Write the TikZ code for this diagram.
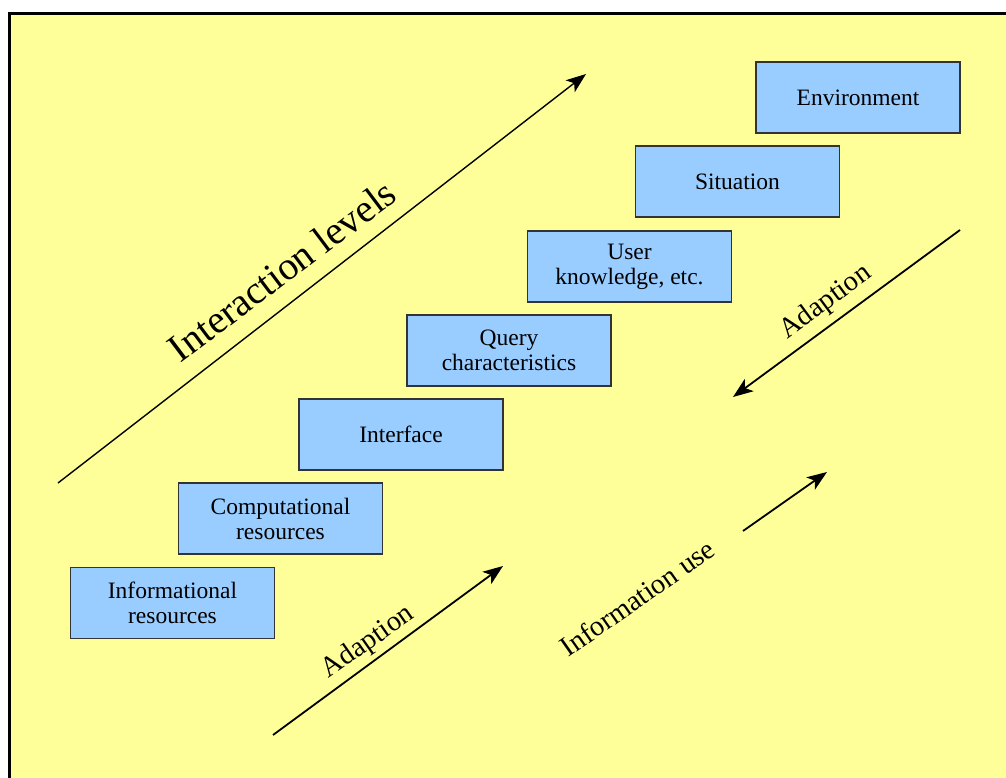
\documentclass[tikz,border=0pt]{standalone}
\usepackage{fontspec}
\setmainfont{Liberation Serif}
\usetikzlibrary{arrows.meta}

\definecolor{pagebg}{HTML}{FFFF99}
\definecolor{levelfill}{HTML}{99CCFF}
\definecolor{levelline}{HTML}{333333}

\tikzset{
  levelbox/.style={draw=levelline, line width=1.3pt, fill=levelfill,
    minimum width=204pt, minimum height=71pt, inner sep=2pt,
    align=center, font=\fontsize{23.5}{25}\selectfont},
  flow/.style={draw=black, line width=1.8pt,
    -{Stealth[length=20pt,width=15pt,inset=5pt]}},
  biglabel/.style={font=\fontsize{39.5}{44}\selectfont, anchor=base, inner sep=0pt},
  smalllabel/.style={font=\fontsize{28.5}{32}\selectfont, anchor=base, inner sep=0pt},
}

\begin{document}
\begin{tikzpicture}[x=1pt, y=-1pt]
  % page area and frame
  \useasboundingbox (0,0) rectangle (1006,778);
  \begin{scope}
    \clip (0,0) rectangle (1006,778);
    \fill[white] (0,0) rectangle (1006,778);
    \draw[fill=pagebg, line width=2.5pt] (9.5,13.5) rectangle (1020,800);
  \end{scope}

  % levels, lowest to highest
  \node[levelbox] (info)    at (172.5,603)   {Informational\\resources};
  \node[levelbox] (comp)    at (280.5,518.5) {Computational\\resources};
  \node[levelbox] (iface)   at (401,434.5)   {Interface};
  \node[levelbox] (query)   at (509,350.5)   {Query\\characteristics};
  \node[levelbox] (user)    at (629.5,266.5) {User\\knowledge, etc.};
  \node[levelbox] (sit)     at (737.5,181.5) {Situation};
  \node[levelbox] (env)     at (858,97.5)    {Environment};

  % arrow end points
  \coordinate (ilA) at (58,483);
  \coordinate (ilB) at (586,74);
  \coordinate (adrA) at (960,230);
  \coordinate (adrB) at (733,397);
  \coordinate (iuA) at (743,531);
  \coordinate (iuB) at (827,472);
  \coordinate (adbA) at (273,735);
  \coordinate (adbB) at (503,566);

  \draw[flow, line width=1.4pt] (ilA) -- (ilB);
  \draw[flow] (adrA) -- (adrB);
  \draw[flow] (iuA) -- (iuB);
  \draw[flow] (adbA) -- (adbB);

  % labels
  \node[biglabel, rotate=37] (illabel) at (290,281) {Interaction levels};
  \node[smalllabel, rotate=36.5] (adrlabel) at (830,308) {Adaption};
  \node[smalllabel, rotate=35] (iulabel) at (643,606) {Information use};
  \node[smalllabel, rotate=35] (adblabel) at (372,648) {Adaption};
\end{tikzpicture}
\end{document}
